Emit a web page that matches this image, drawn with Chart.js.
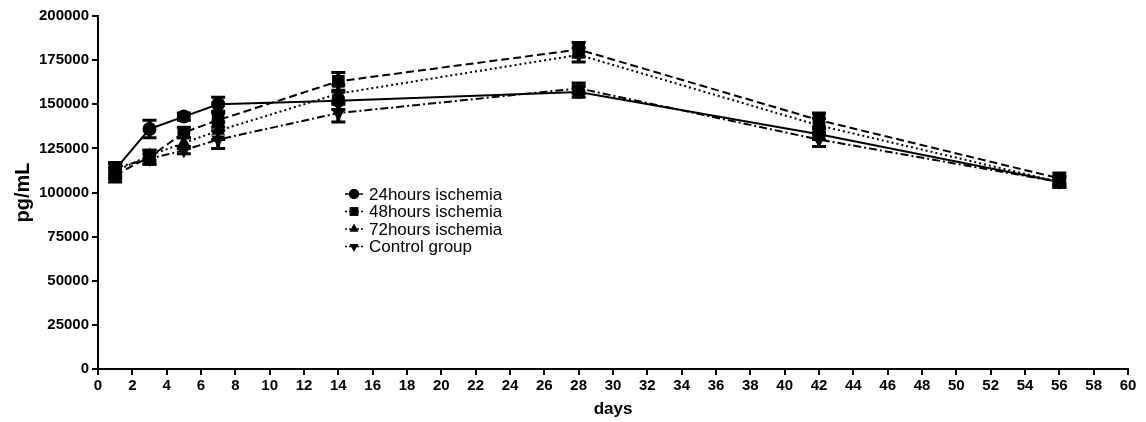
<!DOCTYPE html>
<html><head><meta charset="utf-8">
<script src="https://cdn.jsdelivr.net/npm/chart.js@4/dist/chart.umd.min.js"></script>
<style>html,body{margin:0;padding:0;background:#fff}#wrap{width:1146px;height:422px;position:relative}</style>
</head><body><div id="wrap"><canvas id="c" width="1146" height="422"></canvas></div>
<script>
const days = [1, 3, 5, 7, 14, 28, 42, 56];
const seriesNames = ["24hours ischemia", "48hours ischemia", "72hours ischemia", "Control group"];
const h24 = [113000, 136000, 143000, 150000, 152000, 157000, 133000, 106000];
const h48 = [110000, 120000, 134000, 141000, 163000, 181000, 141000, 108000];
const h72 = [112000, 121000, 128000, 135000, 156000, 178000, 138000, 106000];
const ctrl = [114000, 119000, 124000, 130000, 145000, 159000, 130000, 106000];
const err24 = [4000, 5000, 2000, 4000, 5000, 3000, 3000, 2000];
const err48 = [4000, 4000, 3000, 4000, 5000, 4000, 4000, 3000];
const err72 = [4000, 3000, 3000, 5000, 5000, 4000, 4000, 3000];
const errC = [3000, 3000, 2000, 5000, 5000, 3000, 4000, 3000];
const xTicks = [0,2,4,6,8,10,12,14,16,18,20,22,24,26,28,30,32,34,36,38,40,42,44,46,48,50,52,54,56,58,60];
const yTicks = [0,25000,50000,75000,100000,125000,150000,175000,200000];

const FONT = "'Liberation Sans', Arial, sans-serif";
const styles = [
  {dash: [], point: 'circle', rot: 0, r: 7},
  {dash: [8, 4], point: 'rect', rot: 0, r: 9},
  {dash: [2, 3], point: 'triangle', rot: 0, r: 8},
  {dash: [8, 3, 2, 3], point: 'triangle', rot: 180, r: 8}
];
const values = [h24, h48, h72, ctrl];
const errs = [err24, err48, err72, errC];

const datasets = values.map((v, i) => ({
  label: seriesNames[i],
  data: days.map((d, j) => ({x: d, y: v[j]})),
  errors: errs[i],
  borderColor: '#000',
  backgroundColor: '#000',
  borderWidth: 2,
  borderDash: styles[i].dash,
  pointStyle: styles[i].point,
  rotation: styles[i].rot,
  pointRadius: styles[i].r,
  pointBorderWidth: 0,
  tension: 0
}));

const errorBars = {
  id: 'errorBars',
  afterDatasetsDraw(chart) {
    const ctx = chart.ctx, xs = chart.scales.x, ys = chart.scales.y;
    ctx.save();
    ctx.strokeStyle = '#000';
    ctx.setLineDash([]);
    chart.data.datasets.forEach(ds => {
      ds.data.forEach((p, j) => {
        const e = ds.errors[j];
        const px = xs.getPixelForValue(p.x);
        const top = ys.getPixelForValue(p.y + e);
        const bot = ys.getPixelForValue(p.y - e);
        ctx.lineWidth = 4;
        ctx.beginPath();
        ctx.moveTo(px, top); ctx.lineTo(px, bot);
        ctx.stroke();
        ctx.lineWidth = 3;
        ctx.beginPath();
        ctx.moveTo(px - 7, top); ctx.lineTo(px + 7, top);
        ctx.moveTo(px - 7, bot); ctx.lineTo(px + 7, bot);
        ctx.stroke();
      });
    });
    ctx.restore();
  }
};

const customLegend = {
  id: 'customLegend',
  afterDraw(chart) {
    const ctx = chart.ctx;
    ctx.save();
    const x0 = 345, y0 = 194, dy = 17.5;
    chart.data.datasets.forEach((ds, i) => {
      const y = y0 + i * dy;
      ctx.strokeStyle = '#000';
      ctx.lineWidth = 1.5;
      ctx.setLineDash(ds.borderDash.length ? [2, 2] : []);
      ctx.beginPath(); ctx.moveTo(x0, y); ctx.lineTo(x0 + 18, y); ctx.stroke();
      ctx.setLineDash([]);
      ctx.fillStyle = '#000';
      Chart.helpers.drawPoint(ctx, {pointStyle: ds.pointStyle, rotation: ds.rotation, radius: ds.pointStyle === 'rect' ? 6 : 5, borderWidth: 0}, x0 + 9, y);
      ctx.fill();
      ctx.font = '17px ' + FONT;
      ctx.textBaseline = 'middle';
      ctx.textAlign = 'left';
      ctx.fillText(ds.label, x0 + 24, y + 1);
    });
    ctx.restore();
  }
};

new Chart(document.getElementById('c'), {
  type: 'line',
  data: {datasets},
  options: {
    responsive: false,
    animation: false,
    layout: {padding: {left: 0, right: 18, top: 16, bottom: 0}},
    plugins: {legend: {display: false}, tooltip: {enabled: false}},
    scales: {
      x: {
        type: 'linear', min: 0, max: 60,
        afterBuildTicks: s => { s.ticks = xTicks.map(v => ({value: v})); },
        afterFit: s => { s.height = 53; },
        grid: {drawOnChartArea: false, drawTicks: true, tickLength: 6, color: '#000', lineWidth: 2},
        border: {color: '#000', width: 2},
        ticks: {color: '#000', font: {family: FONT, size: 15, weight: 'bold'}, padding: 2, maxRotation: 0, autoSkip: false},
        title: {display: true, text: 'days', color: '#000', font: {family: FONT, size: 17, weight: 'bold'}, padding: {top: 0, bottom: 2}}
      },
      y: {
        type: 'linear', min: 0, max: 200000,
        afterBuildTicks: s => { s.ticks = yTicks.map(v => ({value: v})); },
        afterFit: s => { s.width = 98; },
        grid: {drawOnChartArea: false, drawTicks: true, tickLength: 6, color: '#000', lineWidth: 2},
        border: {color: '#000', width: 2},
        ticks: {color: '#000', font: {family: FONT, size: 15, weight: 'bold'}, padding: 3, callback: v => String(v)},
        title: {display: true, text: 'pg/mL', color: '#000', font: {family: FONT, size: 20, weight: 'bold'}, padding: {top: 11, bottom: 0}}
      }
    }
  },
  plugins: [errorBars, customLegend]
});
</script>
</body></html>
